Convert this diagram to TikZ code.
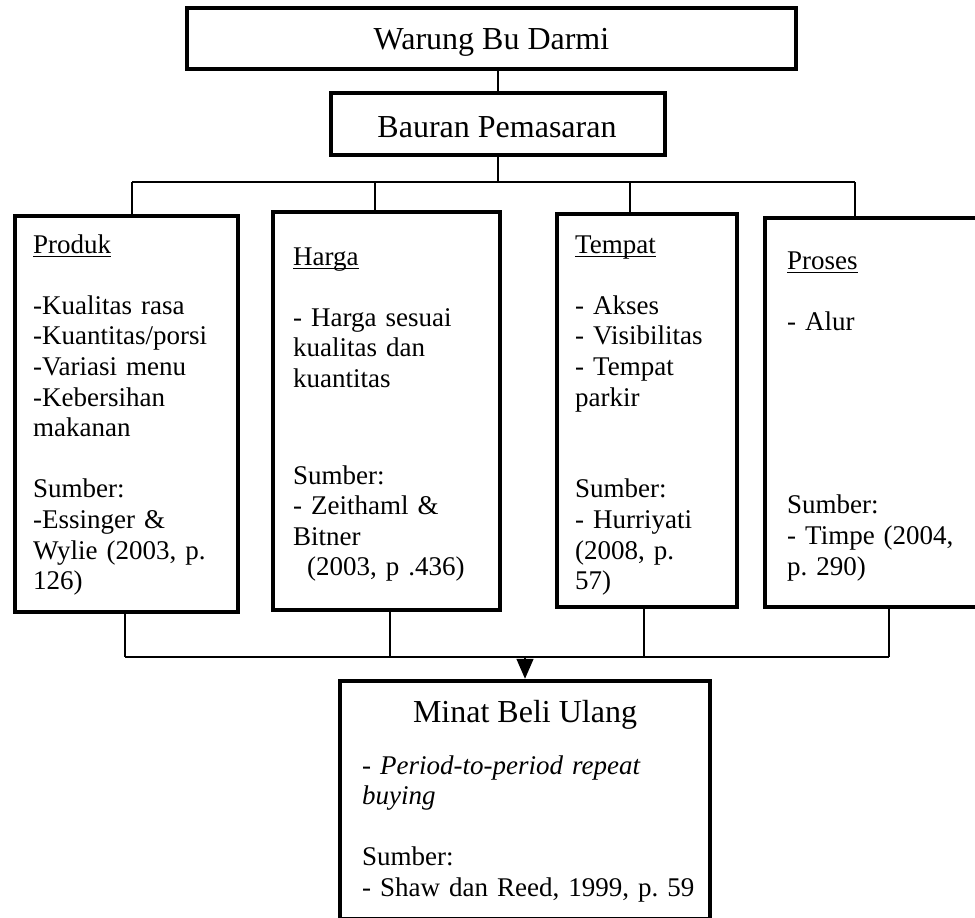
\documentclass[tikz,border=0pt]{standalone}
\usepackage{fontspec}
\setmainfont{Liberation Serif}
\usetikzlibrary{arrows.meta}
\frenchspacing
\newcommand\hdul[1]{\leavevmode\setbox0=\hbox{#1}\rlap{\rule[-3.8pt]{\wd0}{1.3pt}}\box0}
\begin{document}
\begin{tikzpicture}[x=1pt,y=-1pt,
  box/.style={draw, line width=4.5pt, inner sep=0pt},
  title/.style={anchor=base, inner sep=0pt, font=\fontsize{32}{38}\selectfont},
  body/.style={anchor=base west, inner sep=0pt, align=left, font=\fontsize{27}{30.6}\selectfont\frenchspacing},
  conn/.style={line width=1.5pt}]
\useasboundingbox (0,0) rectangle (975,918);

% top boxes
\node[box, minimum width=609pt, minimum height=61pt] (warung) at (491.5,38.5) {};
\node[title] (warungt) at (491.5,49) {Warung Bu Darmi};
\node[box, minimum width=334pt, minimum height=62pt] (bauran) at (498,124) {};
\node[title] (baurant) at (497,137) {Bauran Pemasaran};

% four boxes
\node[box, minimum width=223pt, minimum height=396pt] (produk) at (126.5,414) {};
\node[box, minimum width=227pt, minimum height=398pt] (harga) at (386.5,411) {};
\node[box, minimum width=180pt, minimum height=393pt] (tempat) at (647,410.5) {};
\node[box, minimum width=213pt, minimum height=389pt] (proses) at (871.5,412.5) {};

% bottom box
\node[box, minimum width=370pt, minimum height=238pt] (minat) at (525,800) {};

% texts
\node[body, text width=200pt] (produkt) at (33,253) {\hdul{Produk}\\[30.6pt]
-Kualitas rasa\\
-Kuantitas/porsi\\
-Variasi menu\\
-Kebersihan\\
makanan\\[30.6pt]
Sumber:\\
-Essinger \&\\
Wylie (2003, p.\\
126)};

\node[body, text width=200pt] (hargat) at (293,265) {\hdul{Harga}\\[30.6pt]
- Harga sesuai\\
kualitas dan\\
kuantitas\\[66pt]
Sumber:\\
- Zeithaml \&\\
Bitner\\
\hspace*{14pt}(2003, p .436)};

\node[body, text width=160pt] (tempatt) at (575,253) {\hdul{Tempat}\\[30.6pt]
- Akses\\
- Visibilitas\\
- Tempat\\
parkir\\[61.2pt]
Sumber:\\
- Hurriyati\\
(2008, p.\\
57)};

\node[body, text width=180pt] (prosest) at (787,269) {\hdul{Proses}\\[30.6pt]
- Alur\\[153pt]
Sumber:\\
- Timpe (2004,\\
p. 290)};

\node[title] (minath) at (525,722) {Minat Beli Ulang};
\node[body, text width=340pt] (minatt) at (362,774) {- \textit{Period-to-period repeat}\\
\textit{buying}\\[30.6pt]
Sumber:\\
- Shaw dan Reed, 1999, p. 59};

% connectors top
\draw[conn] (bauran.north |- warung.south) -- (bauran.north);
\coordinate (b1) at (132,182);
\coordinate (b2) at (375,182);
\coordinate (b3) at (630,182);
\coordinate (b4) at (855,182);
\draw[conn] (bauran.south) -- (bauran.south |- b1);
\draw[conn] (b1) -- (b4);
\draw[conn] (b1) -- (b1 |- produk.north);
\draw[conn] (b2) -- (b2 |- harga.north);
\draw[conn] (b3) -- (b3 |- tempat.north);
\draw[conn] (b4) -- (b4 |- proses.north);

% connectors bottom
\coordinate (c1) at (125,657);
\coordinate (c2) at (390,657);
\coordinate (c3) at (644,657);
\coordinate (c4) at (889,657);
\draw[conn] (c1) -- (c4);
\draw[conn] (c1 |- produk.south) -- (c1);
\draw[conn] (c2 |- harga.south) -- (c2);
\draw[conn] (c3 |- tempat.south) -- (c3);
\draw[conn] (c4 |- proses.south) -- (c4);
\draw[conn, -{Triangle[width=17pt,length=20pt]}] (minat.north |- c1) -- (minat.north);
\end{tikzpicture}
\end{document}
